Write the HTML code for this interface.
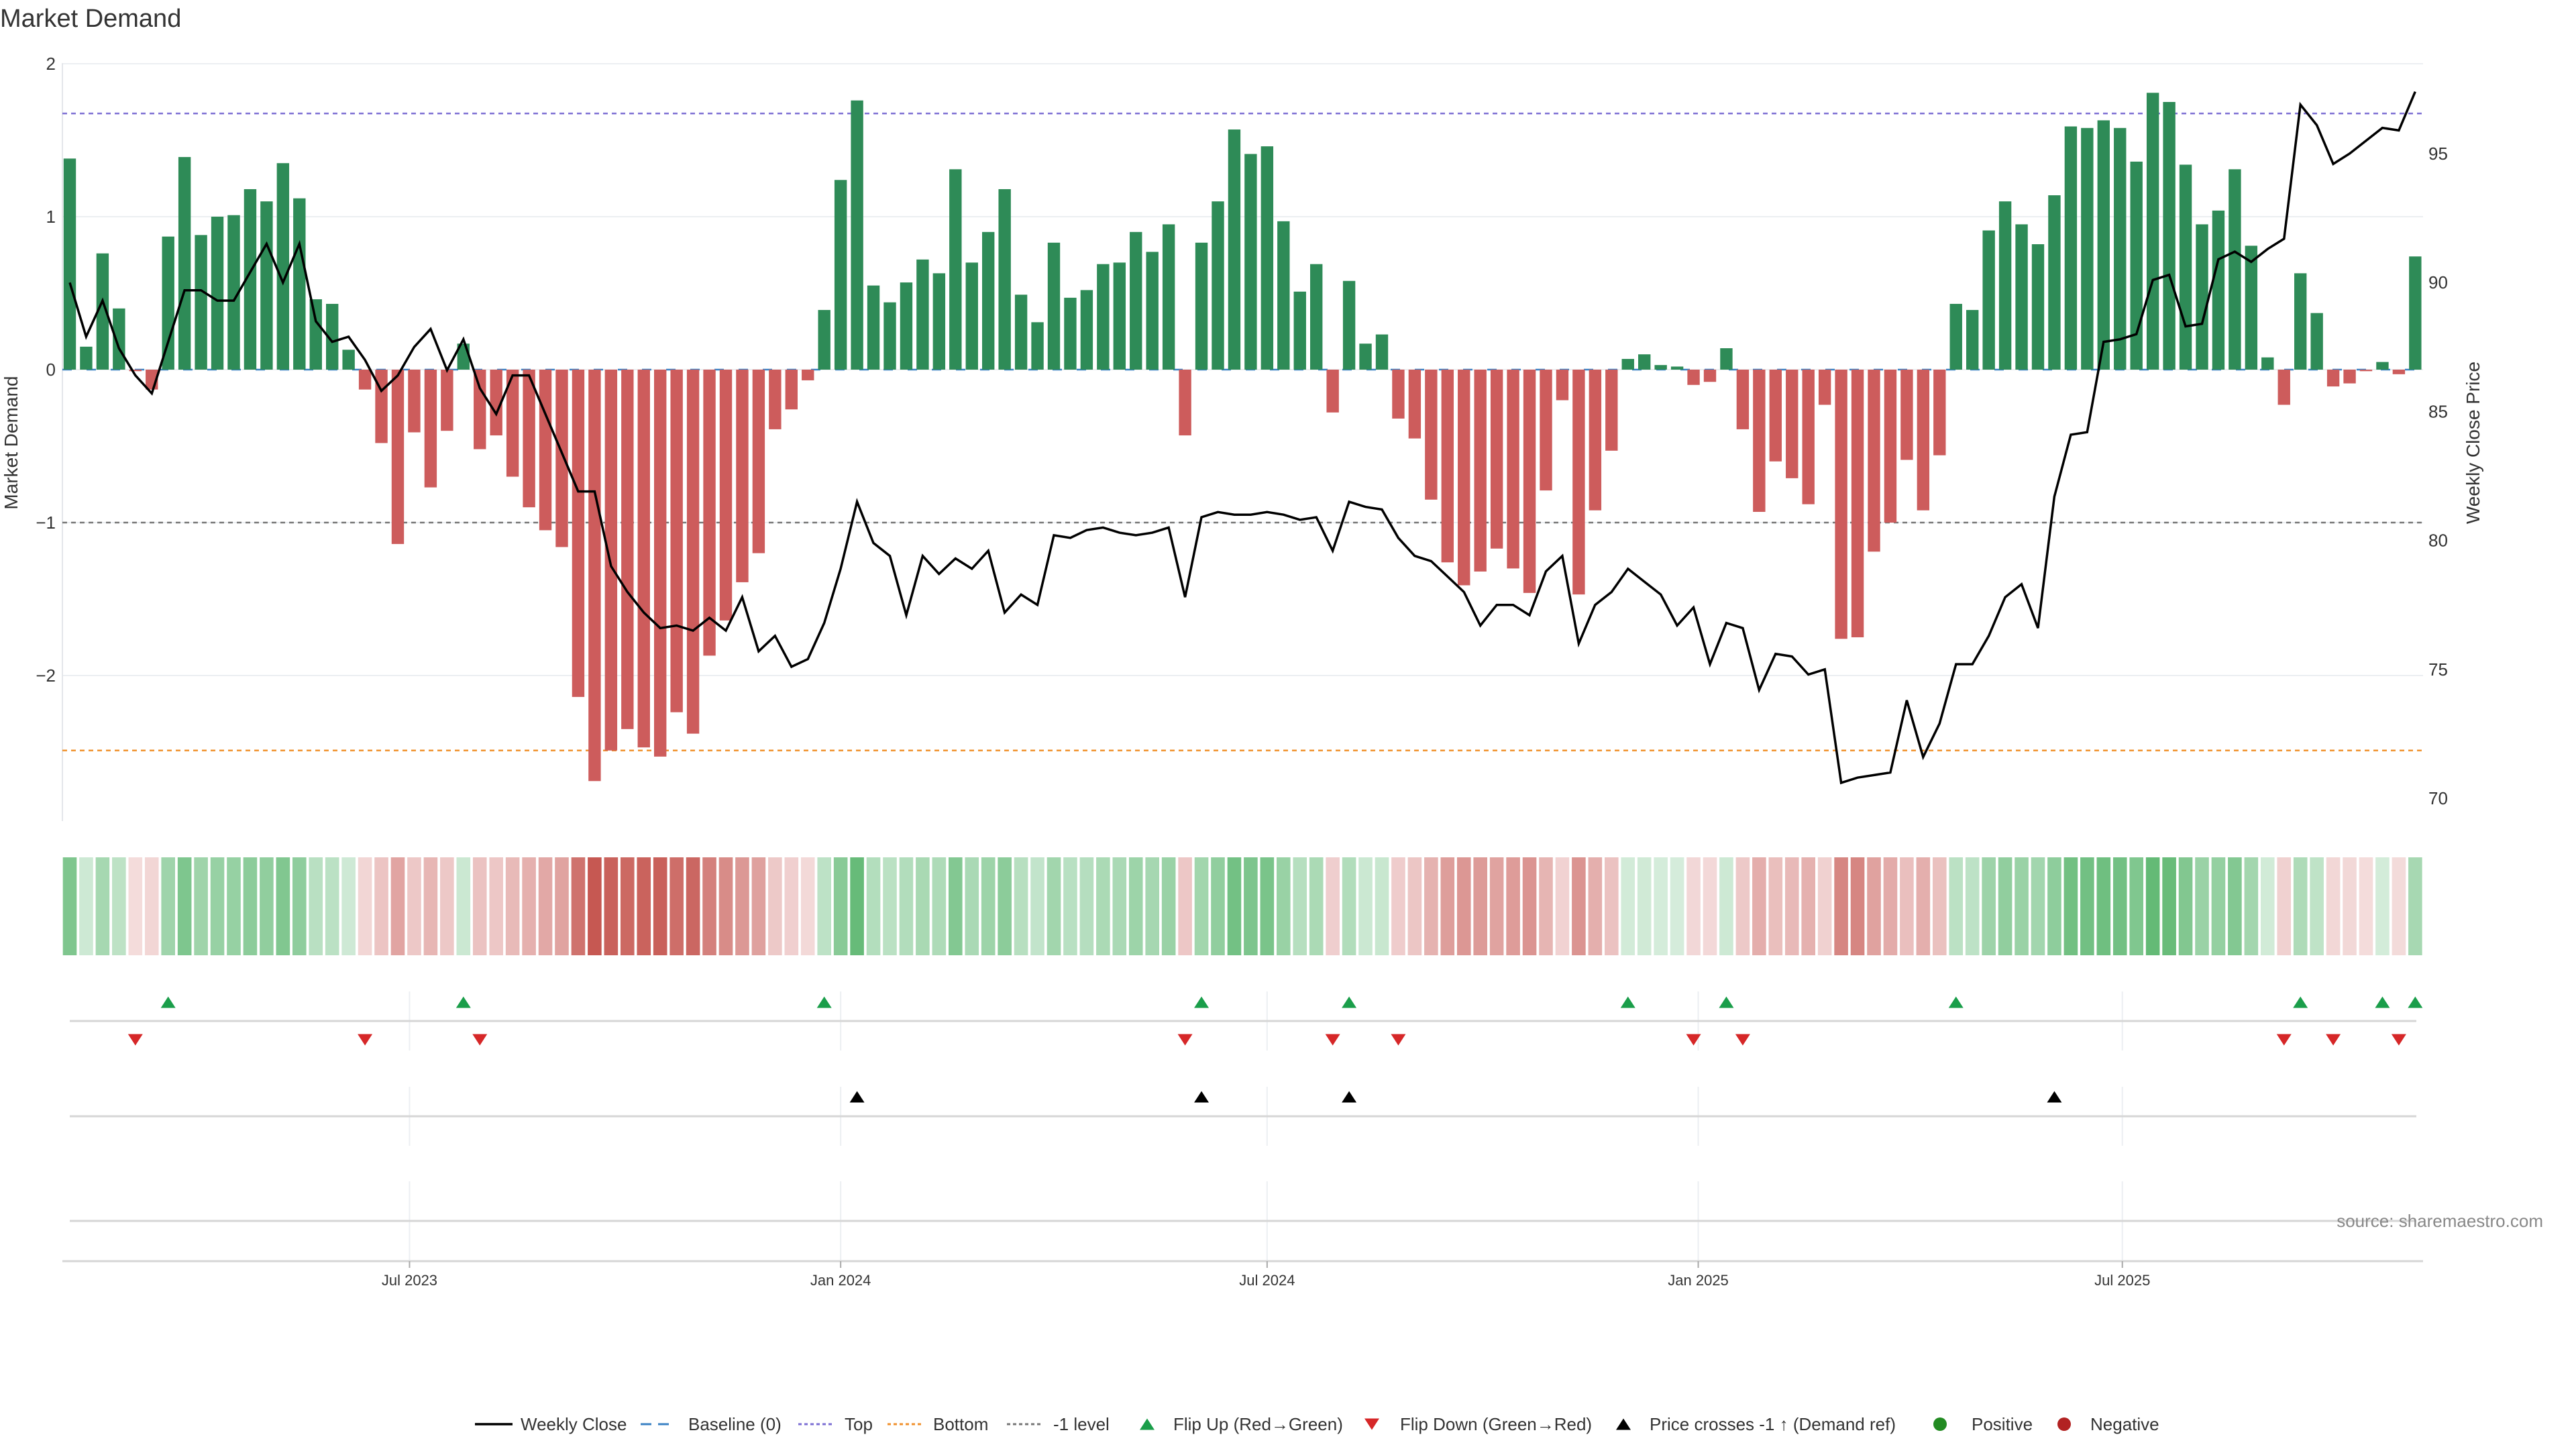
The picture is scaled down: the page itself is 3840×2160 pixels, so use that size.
<!DOCTYPE html>
<html><head><meta charset="utf-8"><style>
html,body{margin:0;padding:0;background:#fff;}
svg{display:block;font-family:"Liberation Sans",sans-serif;}
</style></head><body>
<svg id="chart" width="3840" height="2160" viewBox="0 0 3840 2160" xmlns="http://www.w3.org/2000/svg"></svg>
<script>
const demand = [1.38,0.15,0.76,0.40,-0.01,-0.13,0.87,1.39,0.88,1.00,1.01,1.18,1.10,1.35,1.12,0.46,0.43,0.13,-0.13,-0.48,-1.14,-0.41,-0.77,-0.40,0.17,-0.52,-0.43,-0.70,-0.90,-1.05,-1.16,-2.14,-2.69,-2.49,-2.35,-2.47,-2.53,
-2.24,-2.38,-1.87,-1.64,-1.39,-1.20,-0.39,-0.26,-0.07,0.39,1.24,1.76,0.55,0.44,0.57,0.72,0.63,1.31,0.70,0.90,1.18,0.49,0.31,0.83,0.47,0.52,0.69,0.70,0.90,0.77,0.95,-0.43,0.83,1.10,1.57,1.41,1.46,
0.97,0.51,0.69,-0.28,0.58,0.17,0.23,-0.32,-0.45,-0.85,-1.26,-1.41,-1.32,-1.17,-1.30,-1.46,-0.79,-0.20,-1.47,-0.92,-0.53,0.07,0.10,0.03,0.02,-0.10,-0.08,0.14,-0.39,-0.93,-0.60,-0.71,-0.88,-0.23,-1.76,-1.75,-1.19,
-1.00,-0.59,-0.92,-0.56,0.43,0.39,0.91,1.10,0.95,0.82,1.14,1.59,1.58,1.63,1.58,1.36,1.81,1.75,1.34,0.95,1.04,1.31,0.81,0.08,-0.23,0.63,0.37,-0.11,-0.09,-0.01,0.05,-0.03,0.74];
const price = [90.0,87.9,89.3,87.45,86.4,85.7,87.7,89.7,89.7,89.3,89.3,90.4,91.5,90.0,91.5,88.5,87.7,87.9,87.0,85.8,86.4,87.5,88.2,86.6,87.8,85.9,84.9,86.4,86.4,84.9,83.4,81.9,81.9,79.0,78.0,77.2,76.6,
76.7,76.5,77.0,76.5,77.8,75.7,76.3,75.1,75.4,76.8,78.9,81.5,79.9,79.4,77.1,79.4,78.7,79.3,78.9,79.6,77.2,77.9,77.5,80.2,80.1,80.4,80.5,80.3,80.2,80.3,80.5,77.8,80.9,81.1,81.0,81.0,81.1,
81.0,80.8,80.9,79.6,81.5,81.3,81.2,80.1,79.4,79.2,78.6,78.0,76.7,77.5,77.5,77.1,78.8,79.4,76.0,77.5,78.0,78.9,78.4,77.9,76.7,77.4,75.2,76.8,76.6,74.2,75.6,75.5,74.8,75.0,70.6,70.8,70.9,
71.0,73.8,71.6,72.9,75.2,75.2,76.3,77.8,78.3,76.6,81.7,84.1,84.2,87.7,87.8,88.0,90.1,90.3,88.3,88.4,90.9,91.2,90.8,91.3,91.7,96.9,96.1,94.6,95.0,95.5,96.0,95.9,97.4];
const startDate = "2023-02-06";
const leftTicks = [2,1,0,-1,-2];
const leftTickLabels = ["2","1","0","\u22121","\u22122"];
const rightTicks = [95,90,85,80,75,70];
const dateTicks = ["2023-07-01","2024-01-01","2024-07-01","2025-01-01","2025-07-01"];
const dateTickLabels = ["Jul 2023","Jan 2024","Jul 2024","Jan 2025","Jul 2025"];
const topLevel = 1.675;
const bottomLevel = -2.49;
const minusLevel = -1;

const NS="http://www.w3.org/2000/svg";
const svg=document.getElementById('chart');
function mk(tag,attrs,parent){const e=document.createElementNS(NS,tag);for(const k in attrs)e.setAttribute(k,attrs[k]);(parent||svg).appendChild(e);return e;}
const X0=104, DX=24.45;
const xi=i=>X0+i*DX;
const t0=Date.parse(startDate);
const xd=d=>X0+(Date.parse(d)-t0)/86400000/7*DX;
const yL=v=>551-228*v;
const yR=p=>229+(95-p)*38.44;
const PL=93, PR=3612;

// title
let t=mk('text',{x:0,y:40,'font-size':38,fill:'#333'});t.textContent='Market Demand';



// grid
leftTicks.forEach((v,k)=>{
  const g=mk('line',{x1:PL,x2:PR,y1:yL(v),y2:yL(v),stroke:'#eceff2','stroke-width':2});
  
  
  const l=mk('text',{x:83,y:yL(v)+9,'font-size':26,fill:'#333','text-anchor':'end'});l.textContent=leftTickLabels[k];
  
  
});
rightTicks.forEach(p=>{
  const l=mk('text',{x:3620,y:yR(p)+9,'font-size':26,fill:'#333'});l.textContent=String(p);
  
  
});
let ax=mk('line',{x1:PL,x2:PL,y1:94,y2:1224,stroke:'#e4e6ea','stroke-width':2});


let lt=mk('text',{x:26,y:660,'font-size':28,fill:'#333','text-anchor':'middle',transform:'rotate(-90 26 660)'});lt.textContent='Market Demand';


let rt=mk('text',{x:3696,y:660,'font-size':28,fill:'#333','text-anchor':'middle',transform:'rotate(-90 3696 660)'});rt.textContent='Weekly Close Price';



// reference lines
let rl=mk('line',{x1:PL,x2:PR,y1:yL(topLevel),y2:yL(topLevel),stroke:'#7d6fd4','stroke-width':2.5,'stroke-dasharray':'7 6'});


rl=mk('line',{x1:PL,x2:PR,y1:yL(bottomLevel),y2:yL(bottomLevel),stroke:'#f0922e','stroke-width':2.5,'stroke-dasharray':'7 6'});


rl=mk('line',{x1:PL,x2:PR,y1:yL(minusLevel),y2:yL(minusLevel),stroke:'#777','stroke-width':2.5,'stroke-dasharray':'7 6'});


rl=mk('line',{x1:PL,x2:PR,y1:yL(0),y2:yL(0),stroke:'#3b82c4','stroke-width':2.5,'stroke-dasharray':'14 22'});



// bars
demand.forEach((v,i)=>{
  const y0=yL(0), y1=yL(v);
  const b=mk('rect',{x:xi(i)-9.2,y:Math.min(y0,y1),width:18.4,height:Math.max(Math.abs(y1-y0),1),fill:v>=0?'#2e8b57':'#cd5c5c'});
  
  
});

// price line
let pts=price.map((p,i)=>xi(i).toFixed(1)+','+yR(p).toFixed(1)).join(' ');
let pl=mk('polyline',{points:pts,fill:'none',stroke:'#000','stroke-width':3.5,'stroke-linejoin':'miter'});



// heatmap
function lerp(a,b,t){return a.map((c,k)=>Math.round(c+(b[k]-c)*t));}
demand.forEach((v,i)=>{
  let c;
  if(v>=0){c=lerp([214,237,220],[100,186,118],Math.min(v/1.81,1));}
  else{c=lerp([244,220,220],[198,88,82],Math.min(-v/2.69,1));}
  const r=mk('rect',{x:xi(i)-10.3,y:1278,width:20.6,height:146,fill:'rgb('+c.join(',')+')'});
  
  
});

// lower panels
[[1478,1566],[1620,1708],[1761,1880]].forEach(s=>{
  dateTicks.forEach(d=>{
    const g=mk('line',{x1:xd(d),x2:xd(d),y1:s[0],y2:s[1],stroke:'#eceff2','stroke-width':2});
    
    
  });
});
[1522,1664,1820].forEach(y=>{
  const l=mk('line',{x1:104,x2:3602,y1:y,y2:y,stroke:'#d6d6d6','stroke-width':3});
  
  
});
let xa=mk('line',{x1:PL,x2:PR,y1:1880,y2:1880,stroke:'#d6d6d6','stroke-width':3});


dateTicks.forEach((d,k)=>{
  const tk=mk('line',{x1:xd(d),x2:xd(d),y1:1880,y2:1890,stroke:'#aaa','stroke-width':2});
  
  
  const l=mk('text',{x:xd(d),y:1916,'font-size':22,fill:'#333','text-anchor':'middle'});l.textContent=dateTickLabels[k];
  
  
});
function tri(cx,cy,up,fill){
  const w=11,h=8.5;
  const p=up?`${cx-w},${cy+h} ${cx+w},${cy+h} ${cx},${cy-h}`:`${cx-w},${cy-h} ${cx+w},${cy-h} ${cx},${cy+h}`;
  return mk('polygon',{points:p,fill:fill});
}
const cross=yL(minusLevel);
const crossPrice=95-(cross-229)/38.44;
for(let i=1;i<demand.length;i++){
  if(demand[i-1]<=0&&demand[i]>0){const m=tri(xi(i),1494,true,'#1a9e4a');
    
    }
  if(demand[i-1]>0&&demand[i]<=0){const m=tri(xi(i),1550,false,'#d62728');
    
    }
  if(price[i-1]<crossPrice&&price[i]>=crossPrice){const m=tri(xi(i),1635,true,'#000');
    
    }
}
let src=mk('text',{x:3791,y:1829,'font-size':26,fill:'#888','text-anchor':'end'});src.textContent='source: sharemaestro.com';



// legend
const LY=2123;
const lg=mk('g',{});


function ltext(x,s){const e=mk('text',{x:x,y:LY+9,'font-size':26,fill:'#333'},lg);e.textContent=s;return e;}
let s;
s=mk('line',{x1:708,x2:764,y1:LY,y2:LY,stroke:'#000','stroke-width':3.5},lg);


ltext(776,'Weekly Close');
s=mk('line',{x1:955,x2:1005,y1:LY,y2:LY,stroke:'#3b82c4','stroke-width':3,'stroke-dasharray':'16 10'},lg);


ltext(1026,'Baseline (0)');
s=mk('line',{x1:1190,x2:1240,y1:LY,y2:LY,stroke:'#7d6fd4','stroke-width':3,'stroke-dasharray':'5 4'},lg);


ltext(1259,'Top');
s=mk('line',{x1:1323,x2:1373,y1:LY,y2:LY,stroke:'#f0922e','stroke-width':3,'stroke-dasharray':'5 4'},lg);


ltext(1391,'Bottom');
s=mk('line',{x1:1501,x2:1551,y1:LY,y2:LY,stroke:'#777','stroke-width':3,'stroke-dasharray':'5 4'},lg);


ltext(1570,'-1 level');
s=tri(1710,LY,true,'#1a9e4a');lg.appendChild(s);


ltext(1749,'Flip Up (Red\u2192Green)');
s=tri(2045,LY,false,'#d62728');lg.appendChild(s);


ltext(2087,'Flip Down (Green\u2192Red)');
s=tri(2420,LY,true,'#000');lg.appendChild(s);


ltext(2459,'Price crosses -1 \u2191 (Demand ref)');
s=mk('circle',{cx:2892,cy:LY,r:10,fill:'#228b22'},lg);


ltext(2939,'Positive');
s=mk('circle',{cx:3077,cy:LY,r:10,fill:'#b22222'},lg);


ltext(3116,'Negative');
</script>
</body></html>
